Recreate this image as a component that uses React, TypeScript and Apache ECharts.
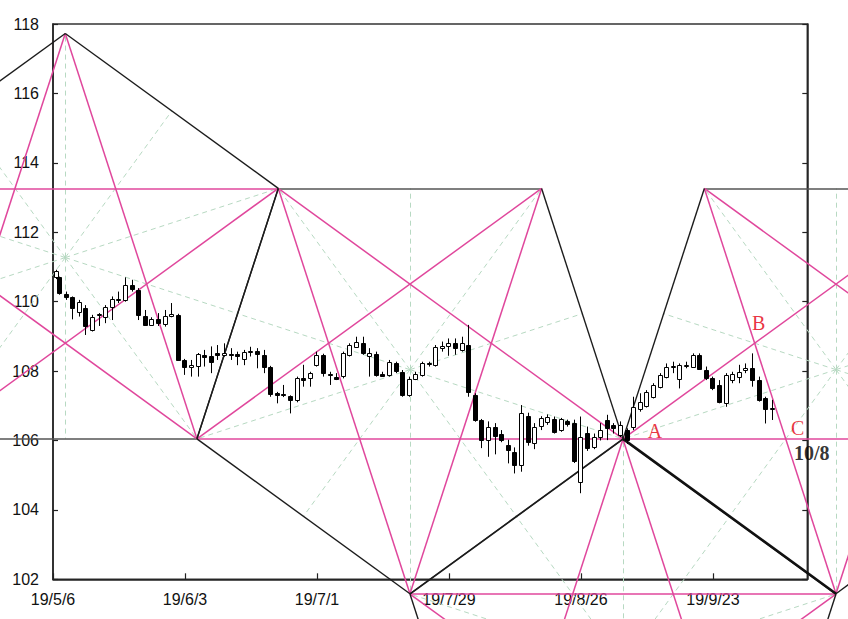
import React, { useEffect, useRef } from 'react';
import * as echarts from 'echarts';

// x axis: trading-day index counted from 19/5/6
const tickDays = [0, 20, 40, 60, 80, 100];
const tickLabels = ['19/5/6', '19/6/3', '19/7/1', '19/7/29', '19/8/26', '19/9/23'];
const yTicks = [102, 104, 106, 108, 110, 112, 114, 116, 118];

// daily candles (open, close, low, high)
const opens = [110.7, 110.7, 110.22, 110.13, 109.71, 109.81, 109.19, 109.6, 109.57, 109.84, 110.05, 110.05, 110.48, 110.34, 109.6, 109.33, 109.51, 109.38, 109.57, 109.62, 108.32, 108.11, 108.15, 108.47, 108.42, 108.51, 108.48, 108.5, 108.5, 108.37, 108.54, 108.58, 108.47, 108.13, 107.38, 107.33, 107.28, 107.17, 107.79, 107.79, 108.18, 108.47, 107.92, 107.84, 107.84, 108.47, 108.72, 108.8, 108.42, 108.5, 107.92, 107.9, 108.22, 107.98, 107.31, 107.77, 107.88, 108.24, 108.18, 108.66, 108.72, 108.8, 108.61, 108.75, 107.31, 106.59, 106.02, 106.4, 106.2, 105.87, 105.67, 105.29, 106.7, 105.95, 106.4, 106.55, 106.62, 106.3, 106.55, 106.5, 104.81, 106.21, 105.8, 106.1, 106.59, 106.45, 106.15, 106.3, 106.4, 106.9, 107.0, 107.26, 107.55, 107.84, 108.13, 107.79, 108.16, 108.13, 108.47, 108.03, 107.79, 107.6, 107.07, 107.76, 107.84, 108.03, 108.09, 107.75, 107.23, 106.93];
const closes = [110.87, 110.24, 110.13, 109.81, 110.0, 109.3, 109.57, 109.64, 109.86, 110.07, 110.08, 110.48, 110.36, 109.62, 109.33, 109.51, 109.4, 109.6, 109.64, 108.32, 108.11, 108.18, 108.5, 108.42, 108.24, 108.44, 108.53, 108.48, 108.43, 108.56, 108.58, 108.5, 108.13, 107.36, 107.31, 107.3, 107.17, 107.79, 107.74, 107.94, 108.47, 107.94, 107.88, 107.79, 108.51, 108.75, 108.85, 108.51, 108.51, 107.9, 107.87, 108.27, 107.98, 107.31, 107.77, 107.92, 108.24, 108.2, 108.69, 108.72, 108.8, 108.66, 108.8, 107.41, 106.59, 106.0, 106.4, 106.15, 106.02, 105.73, 105.29, 106.79, 105.95, 106.4, 106.64, 106.69, 106.25, 106.62, 106.45, 105.4, 106.11, 105.78, 106.1, 106.3, 106.35, 106.35, 106.45, 106.0, 106.97, 107.1, 107.4, 107.6, 107.89, 108.13, 108.15, 108.18, 108.17, 108.47, 108.08, 107.79, 107.5, 107.12, 107.89, 107.92, 107.98, 108.08, 107.75, 107.17, 106.9, 106.95];
const lows = [110.65, 110.2, 110.05, 109.49, 109.57, 109.04, 109.14, 109.3, 109.38, 109.47, 109.96, 110.0, 110.29, 109.47, 109.3, 109.3, 109.3, 109.28, 109.55, 108.3, 107.89, 107.84, 107.84, 108.13, 107.94, 108.32, 108.42, 108.32, 108.17, 108.17, 108.42, 108.08, 107.94, 107.26, 107.07, 107.25, 106.78, 107.1, 107.55, 107.55, 108.13, 107.84, 107.6, 107.74, 107.79, 108.42, 108.71, 108.47, 107.84, 107.84, 107.84, 107.84, 107.94, 107.26, 107.26, 107.74, 107.84, 108.13, 108.13, 108.56, 108.44, 108.47, 108.56, 107.26, 106.54, 105.78, 105.53, 105.6, 105.95, 105.34, 105.05, 105.1, 105.85, 105.75, 106.3, 106.45, 106.2, 106.25, 106.4, 105.35, 104.48, 105.7, 105.75, 106.0, 106.01, 106.2, 106.1, 105.9, 106.3, 106.83, 106.95, 107.21, 107.5, 107.79, 107.94, 107.5, 108.08, 108.13, 108.08, 107.74, 107.45, 107.07, 106.97, 107.65, 107.65, 107.94, 107.55, 107.12, 106.49, 106.59];
const highs = [110.92, 110.72, 110.29, 110.15, 110.05, 109.9, 109.62, 109.67, 109.9, 110.15, 110.29, 110.7, 110.63, 110.39, 109.76, 109.55, 109.67, 109.76, 109.96, 109.65, 108.35, 108.32, 108.52, 108.61, 108.71, 108.75, 108.8, 108.66, 108.56, 108.61, 108.7, 108.66, 108.61, 108.15, 107.4, 107.6, 107.3, 107.84, 108.18, 107.98, 108.56, 108.5, 107.98, 107.94, 108.56, 108.8, 108.99, 108.99, 108.66, 108.56, 107.98, 108.32, 108.27, 108.03, 107.84, 107.98, 108.27, 108.27, 108.75, 108.85, 108.94, 108.94, 108.99, 109.33, 107.36, 106.62, 106.55, 106.5, 106.3, 106.02, 105.8, 107.02, 106.8, 106.5, 106.7, 106.75, 106.69, 106.65, 106.6, 106.6, 106.69, 106.4, 106.2, 106.5, 106.74, 106.5, 106.55, 106.35, 107.26, 107.36, 107.45, 107.65, 107.94, 108.22, 108.27, 108.22, 108.27, 108.51, 108.51, 108.13, 107.84, 107.74, 107.94, 107.98, 108.18, 108.22, 108.51, 107.84, 107.26, 107.17];
const FIRST_CANDLE_DAY = 0.45;
const SECOND_CANDLE_DAY = 0.91;

// regular pentagrams (centre day, centre price, pointing up?)
const starDays = [1.86, 54.09, 118.65, 86.37];
const starPrices = [111.27, 108.04, 108.04, 99.58];
const starUp = [true, false, false, true];
const RADIUS_DAYS = 33.94;
const RADIUS_PRICE = 6.455;
const THICK_STAR = 2; // its edge from vertex 4 to vertex 0 is drawn heavy

const annotationTexts = ['A', 'B', 'C', '10/8'];

type Pt = [number, number];
const DEG = Math.PI / 180;

function starVertices(i: number): Pt[] {
  const sgn = starUp[i] ? 1 : -1;
  return [0, 1, 2, 3, 4].map((k) => {
    const t = k * 72 * DEG;
    return [starDays[i] + RADIUS_DAYS * Math.sin(t), starPrices[i] + sgn * RADIUS_PRICE * Math.cos(t)] as Pt;
  });
}

function intersect(a: Pt, b: Pt, c: Pt, d: Pt): Pt {
  const x1 = a[0], y1 = a[1], x2 = b[0], y2 = b[1], x3 = c[0], y3 = c[1], x4 = d[0], y4 = d[1];
  const den = (x1 - x2) * (y3 - y4) - (y1 - y2) * (x3 - x4);
  const t = ((x1 - x3) * (y3 - y4) - (y1 - y3) * (x3 - x4)) / den;
  return [x1 + t * (x2 - x1), y1 + t * (y2 - y1)];
}

export default function App() {
  const ref = useRef<HTMLDivElement>(null);

  useEffect(() => {
    if (!ref.current) return;
    const chart = echarts.init(ref.current, undefined, { renderer: 'svg' });

    const candleData = opens.map((o, i) => [
      i === 0 ? FIRST_CANDLE_DAY : SECOND_CANDLE_DAY + (i - 1),
      o,
      closes[i],
      lows[i],
      highs[i],
    ]);

    const blackEdges: any[] = [];
    const grayEdges: any[] = [];
    const thickEdges: any[] = [];
    const pinkLines: any[] = [];
    const greenRays: any[] = [];

    starDays.forEach((_, i) => {
      const v = starVertices(i);
      const c: Pt = [starDays[i], starPrices[i]];
      for (let k = 0; k < 5; k++) {
        const a = v[k];
        const b = v[(k + 1) % 5];
        const seg = { coords: [a, b] };
        if (i === THICK_STAR && k === 4) thickEdges.push(seg);
        else if (k === 2) grayEdges.push(seg);
        else blackEdges.push(seg);
        pinkLines.push({ coords: [a, v[(k + 2) % 5]] });
        greenRays.push({ coords: [c, a] });
        greenRays.push({ coords: [c, [(a[0] + b[0]) / 2, (a[1] + b[1]) / 2]] });
      }
    });

    const vB = starVertices(1);
    const vC = starVertices(2);
    const pointA = vB[1];
    const pointB = intersect(vC[4], vC[2], vC[3], vC[0]);
    const pointC = intersect(vC[3], vC[0], vC[4], vC[1]);

    const redLabel = {
      show: true,
      position: 'inside',
      color: '#e3000f',
      fontFamily: 'Liberation Serif, serif',
      fontSize: 20,
    };
    const annotations = [
      { value: pointA, label: { ...redLabel, formatter: annotationTexts[0], offset: [32, -8] } },
      { value: pointB, label: { ...redLabel, formatter: annotationTexts[1], offset: [4, -20] } },
      { value: pointC, label: { ...redLabel, formatter: annotationTexts[2], offset: [12, -11] } },
      {
        value: pointC,
        label: {
          show: true,
          position: 'inside',
          formatter: annotationTexts[3],
          color: '#000',
          fontWeight: 'bold',
          fontFamily: 'Liberation Serif, serif',
          fontSize: 20,
          offset: [26, 14],
        },
      },
    ];

    const lineSeries = (data: any[], color: string, width: number, z: number, type: any = 'solid') => ({
      type: 'lines',
      coordinateSystem: 'cartesian2d',
      clip: false,
      silent: true,
      z,
      polyline: false,
      lineStyle: { color, width, type, opacity: 1 },
      data,
    });

    const axisFont = { fontFamily: 'Liberation Sans, Arial, sans-serif', color: '#111' };

    chart.setOption({
      animation: false,
      backgroundColor: '#fff',
      grid: {
        left: 53,
        right: 40.7,
        top: 24,
        bottom: 39.7,
        show: true,
        borderColor: '#333',
        borderWidth: 1.5,
        backgroundColor: 'transparent',
      },
      xAxis: {
        type: 'value',
        min: 0,
        max: 114.3,
        interval: 20,
        splitLine: { show: false },
        axisLine: { show: true, lineStyle: { color: '#222', width: 1.5 } },
        axisTick: { show: true, inside: true, length: 6, lineStyle: { color: '#222', width: 1.2 } },
        axisLabel: {
          ...axisFont,
          fontSize: 16,
          margin: 12,
          showMaxLabel: false,
          formatter: (v: number) => {
            const idx = tickDays.indexOf(Math.round(v * 1000) / 1000);
            return idx >= 0 ? tickLabels[idx] : '';
          },
        },
      },
      yAxis: [
        {
          type: 'value',
          min: yTicks[0],
          max: yTicks[yTicks.length - 1],
          interval: 2,
          splitLine: { show: false },
          axisLine: { show: true, lineStyle: { color: '#222', width: 1.5 } },
          axisTick: { show: true, inside: true, length: 5, lineStyle: { color: '#222', width: 1.2 } },
          axisLabel: { ...axisFont, fontSize: 16, margin: 14 },
        },
        {
          type: 'value',
          position: 'right',
          min: yTicks[0],
          max: yTicks[yTicks.length - 1],
          interval: 2,
          splitLine: { show: false },
          axisLine: { show: true, lineStyle: { color: '#222', width: 1.5 } },
          axisTick: { show: true, inside: true, length: 5, lineStyle: { color: '#222', width: 1.2 } },
          axisLabel: { show: false },
        },
      ],
      series: [
        lineSeries(greenRays, '#b7d9c2', 1, 1, [5, 4]),
        lineSeries(grayEdges, '#555', 1.6, 2),
        lineSeries(pinkLines, '#e0479c', 1.5, 3),
        lineSeries(blackEdges, '#1c1c1c', 1.4, 4),
        lineSeries(thickEdges, '#111', 2.6, 4),
        {
          type: 'custom',
          z: 5,
          silent: true,
          data: candleData,
          encode: { x: 0, y: [1, 2, 3, 4] },
          renderItem: (params: any, api: any) => {
            const d = api.value(0);
            const o = api.value(1);
            const c = api.value(2);
            const l = api.value(3);
            const h = api.value(4);
            const po = api.coord([d, o]);
            const pc = api.coord([d, c]);
            const pl = api.coord([d, l]);
            const ph = api.coord([d, h]);
            const x = Math.round(po[0]) + 0.5;
            const top = Math.round(Math.min(po[1], pc[1])) + 0.5;
            let hgt = Math.round(Math.abs(po[1] - pc[1]));
            if (hgt < 1) hgt = 1;
            const up = c >= o;
            return {
              type: 'group',
              children: [
                { type: 'line', shape: { x1: x, y1: ph[1], x2: x, y2: pl[1] }, style: { stroke: '#000', lineWidth: 1 } },
                {
                  type: 'rect',
                  shape: { x: x - 2, y: top, width: 4, height: hgt },
                  style: { fill: up ? '#fff' : '#000', stroke: '#000', lineWidth: 1 },
                },
              ],
            };
          },
        },
        {
          type: 'scatter',
          z: 6,
          silent: true,
          symbolSize: 1,
          itemStyle: { color: 'rgba(0,0,0,0)' },
          data: annotations,
        },
      ],
    });

    return () => chart.dispose();
  }, []);

  return (
    <div
      ref={ref}
      style={{ position: 'fixed', left: 0, top: 0, width: 848, height: 619, background: '#fff' }}
    />
  );
}
